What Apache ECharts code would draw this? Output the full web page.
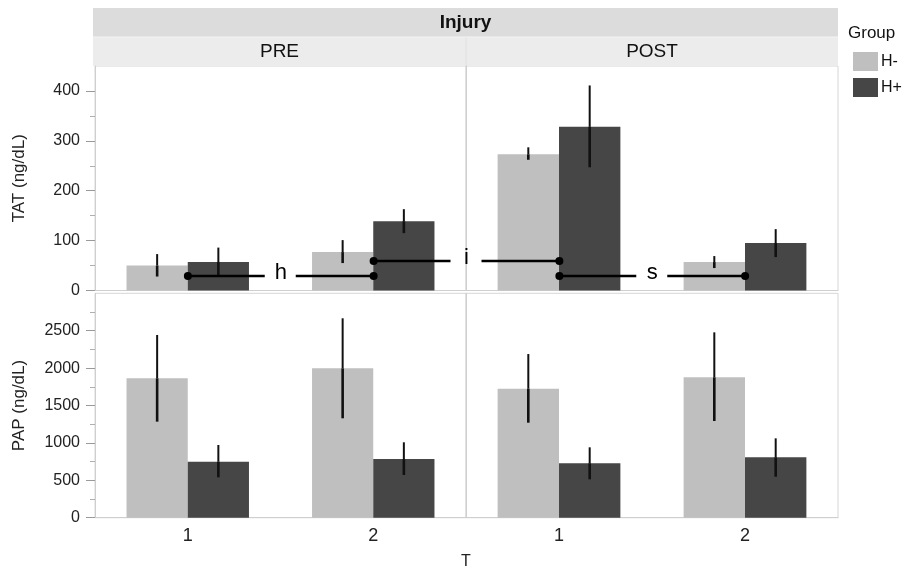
<!DOCTYPE html>
<html>
<head>
<meta charset="utf-8">
<script src="https://cdn.jsdelivr.net/npm/echarts@6/dist/echarts.min.js"></script>
<style>html,body{margin:0;padding:0;background:#fff}#c{width:910px;height:570px}</style>
</head>
<body>
<div id="c"></div>
<script>
// ---- data ----
const categories = ['1', '2'];
const injuryLevels = ['PRE', 'POST'];
const groups = ['H-', 'H+'];
const tatTicks = [0, 100, 200, 300, 400];
const tatMinorTicks = [50, 150, 250, 350];
const papTicks = [0, 500, 1000, 1500, 2000, 2500];
const papMinorTicks = [250, 750, 1250, 1750, 2250, 2750];

// TAT (ng/dL) means and error-bar ends, per T (1, 2)
const tatPreHm = [50, 77],   tatPreHmLo = [28, 55],   tatPreHmHi = [73, 101];
const tatPreHp = [57, 139],  tatPreHpLo = [29, 115],  tatPreHpHi = [86, 163];
const tatPostHm = [273, 57], tatPostHmLo = [262, 45], tatPostHmHi = [287, 69];
const tatPostHp = [328, 95], tatPostHpLo = [247, 67], tatPostHpHi = [411, 123];

// PAP (ng/dL)
const papPreHm = [1864, 1997], papPreHmLo = [1284, 1329], papPreHmHi = [2443, 2666];
const papPreHp = [749, 785],   papPreHpLo = [540, 571],   papPreHpHi = [972, 1008];
const papPostHm = [1725, 1877], papPostHmLo = [1270, 1293], papPostHmHi = [2188, 2478];
const papPostHp = [727, 807],   papPostHpLo = [513, 548],   papPostHpHi = [941, 1061];

// significance brackets across the TAT row (H+ bars), categories PRE1,PRE2,POST1,POST2
const bracketCats = ['PRE 1', 'PRE 2', 'POST 1', 'POST 2'];
const bracketFrom = [0, 1, 2];
const bracketTo = [1, 2, 3];
const bracketY = [29, 59, 29];
const bracketLabels = ['h', 'i', 's'];

// ---- chart ----
const FONT = "'Liberation Sans', Arial, Helvetica, sans-serif";
const HM = '#bfbfbf', HP = '#464646';
const chart = echarts.init(document.getElementById('c'), null, {renderer: 'canvas'});

const L = 95, MID = 466, R = 838;
const topT = 66, topH = 224.5;
const botT = 293.3, botH = 224.4;
const grids = [
  {left: L, top: topT, width: MID - L, height: topH},
  {left: MID, top: topT, width: R - MID, height: topH},
  {left: L, top: botT, width: MID - L, height: botH},
  {left: MID, top: botT, width: R - MID, height: botH},
  {left: L, top: topT, width: R - L, height: topH}
].map(g => Object.assign({show: true, borderColor: '#d6d6d6', borderWidth: 1, backgroundColor: '#fff', containLabel: false}, g));
grids[4].show = false;

function xAx(gi, showLabels) {
  return {
    type: 'category', gridIndex: gi, data: categories,
    axisLine: {show: true, lineStyle: {color: '#cfcfcf', width: 1}},
    axisTick: {show: false},
    axisLabel: {show: showLabels, fontFamily: FONT, fontSize: 18, color: '#222', margin: 9}
  };
}
function yAx(gi, max, ticks, showLabels, name) {
  return {
    type: 'value', gridIndex: gi, min: 0, max: max,
    name: name, nameLocation: 'middle', nameGap: 67,
    nameTextStyle: {fontFamily: FONT, fontSize: 17, color: '#222'},
    axisLine: {show: true, lineStyle: {color: '#cfcfcf'}},
    axisTick: {show: showLabels, length: 9, customValues: ticks, lineStyle: {color: '#9a9a9a'}},
    splitLine: {show: false},
    axisLabel: {show: showLabels, customValues: ticks, fontFamily: FONT, fontSize: 16, color: '#222', margin: 15,
      formatter: v => String(v)}
  };
}
function minorAx(gi, max, ticks) {
  return {
    type: 'value', gridIndex: gi, min: 0, max: max, position: 'left',
    axisLine: {show: false}, splitLine: {show: false}, axisLabel: {show: false},
    axisTick: {show: true, length: 5, customValues: ticks, lineStyle: {color: '#b0b0b0'}}
  };
}

const xAxis = [xAx(0, false), xAx(1, false), xAx(2, true), xAx(3, true),
  {type: 'category', gridIndex: 4, data: bracketCats, show: false}];
const yAxis = [yAx(0, 450, tatTicks, true, 'TAT (ng/dL)'), yAx(1, 450, tatTicks, false, ''),
  yAx(2, 3000, papTicks, true, 'PAP (ng/dL)'), yAx(3, 3000, papTicks, false, ''),
  {type: 'value', gridIndex: 4, min: 0, max: 450, show: false},
  minorAx(0, 450, tatMinorTicks), minorAx(2, 3000, papMinorTicks)];

function errRender(params, api) {
  const idx = api.value(0), mean = api.value(1), lo = api.value(2), hi = api.value(3), g = api.value(4);
  const band = api.size([1, 0])[0];
  const bw = band * 0.33;
  const cx = api.coord([idx, 0])[0] + (g === 0 ? -0.5 : 0.5) * bw;
  const yHi = api.coord([idx, hi])[1], yM = api.coord([idx, mean])[1], yLo = api.coord([idx, lo])[1];
  return {type: 'group', children: [
    {type: 'line', shape: {x1: cx, y1: yHi, x2: cx, y2: yM}, style: {stroke: '#111', lineWidth: 2}},
    {type: 'line', shape: {x1: cx, y1: yM, x2: cx, y2: yLo}, style: {stroke: '#111', lineWidth: 2.6}}
  ]};
}

function facet(gi, hm, hp, hmLo, hmHi, hpLo, hpHi) {
  const errData = [];
  categories.forEach((c, i) => {
    errData.push([i, hm[i], hmLo[i], hmHi[i], 0]);
    errData.push([i, hp[i], hpLo[i], hpHi[i], 1]);
  });
  return [
    {type: 'bar', name: groups[0], xAxisIndex: gi, yAxisIndex: gi, data: hm,
     barGap: '0%', barCategoryGap: '34%', itemStyle: {color: HM}, silent: true},
    {type: 'bar', name: groups[1], xAxisIndex: gi, yAxisIndex: gi, data: hp,
     barGap: '0%', barCategoryGap: '34%', itemStyle: {color: HP}, silent: true},
    {type: 'custom', xAxisIndex: gi, yAxisIndex: gi, data: errData, renderItem: errRender,
     encode: {x: 0, y: 1}, z: 5, clip: false, silent: true}
  ];
}

const bracketData = bracketFrom.map((f, i) => [f, bracketTo[i], bracketY[i]]);
const bracketSeries = {
  type: 'custom', xAxisIndex: 4, yAxisIndex: 4, data: bracketData, z: 10, clip: false, silent: true,
  encode: {x: 0, y: 2},
  renderItem: function (params, api) {
    const p1 = api.coord([api.value(0), api.value(2)]);
    const p2 = api.coord([api.value(1), api.value(2)]);
    const mid = (p1[0] + p2[0]) / 2, y = p1[1];
    const st = {stroke: '#000', lineWidth: 2.4};
    return {type: 'group', children: [
      {type: 'line', shape: {x1: p1[0], y1: y, x2: mid - 16, y2: y}, style: st},
      {type: 'line', shape: {x1: mid + 15, y1: y, x2: p2[0], y2: y}, style: st},
      {type: 'circle', shape: {cx: p1[0], cy: y, r: 4}, style: {fill: '#000'}},
      {type: 'circle', shape: {cx: p2[0], cy: y, r: 4}, style: {fill: '#000'}},
      {type: 'text', x: mid, y: y - 3, style: {text: bracketLabels[params.dataIndex], fontFamily: FONT,
        fontSize: 22, fill: '#000', align: 'center', verticalAlign: 'middle'}}
    ]};
  }
};

const series = [].concat(
  facet(0, tatPreHm, tatPreHp, tatPreHmLo, tatPreHmHi, tatPreHpLo, tatPreHpHi),
  facet(1, tatPostHm, tatPostHp, tatPostHmLo, tatPostHmHi, tatPostHpLo, tatPostHpHi),
  facet(2, papPreHm, papPreHp, papPreHmLo, papPreHmHi, papPreHpLo, papPreHpHi),
  facet(3, papPostHm, papPostHp, papPostHmLo, papPostHmHi, papPostHpLo, papPostHpHi),
  [bracketSeries]
);

const graphic = [
  {type: 'rect', shape: {x: 93, y: 8, width: R - 93, height: 29}, style: {fill: '#dcdcdc'}, silent: true},
  {type: 'rect', shape: {x: 93, y: 37, width: MID - 93, height: 29}, style: {fill: '#ececec'}, silent: true},
  {type: 'rect', shape: {x: MID, y: 37, width: R - MID, height: 29}, style: {fill: '#ececec'}, silent: true},
  {type: 'line', shape: {x1: MID, y1: 37, x2: MID, y2: 66}, style: {stroke: '#e0e0e0', lineWidth: 1}, silent: true},
  {type: 'line', shape: {x1: 93, y1: 37, x2: R, y2: 37}, style: {stroke: '#f4f4f4', lineWidth: 1}, silent: true},
  {type: 'text', x: (93 + R) / 2, y: 23, style: {text: 'Injury', fontFamily: FONT, fontSize: 19, fontWeight: 'bold',
    fill: '#111', align: 'center', verticalAlign: 'middle'}, silent: true},
  {type: 'text', x: (93 + MID) / 2, y: 52, style: {text: injuryLevels[0], fontFamily: FONT, fontSize: 19,
    fill: '#111', align: 'center', verticalAlign: 'middle'}, silent: true},
  {type: 'text', x: (MID + R) / 2, y: 52, style: {text: injuryLevels[1], fontFamily: FONT, fontSize: 19,
    fill: '#111', align: 'center', verticalAlign: 'middle'}, silent: true},
  {type: 'text', x: MID, y: 562, style: {text: 'T', fontFamily: FONT, fontSize: 16,
    fill: '#222', align: 'center', verticalAlign: 'middle'}, silent: true},
  {type: 'text', x: 848, y: 33, style: {text: 'Group', fontFamily: FONT, fontSize: 17,
    fill: '#111', align: 'left', verticalAlign: 'middle'}, silent: true}
];

chart.setOption({
  animation: false,
  backgroundColor: '#fff',
  grid: grids,
  xAxis: xAxis,
  yAxis: yAxis,
  legend: {
    data: groups, orient: 'vertical', left: 853, top: 52, itemWidth: 25, itemHeight: 19, itemGap: 7,
    icon: 'rect', padding: 0, selectedMode: false,
    textStyle: {fontFamily: FONT, fontSize: 16, color: '#111', padding: [0, 0, 0, -2]}
  },
  graphic: graphic,
  series: series
});
</script>
</body>
</html>
